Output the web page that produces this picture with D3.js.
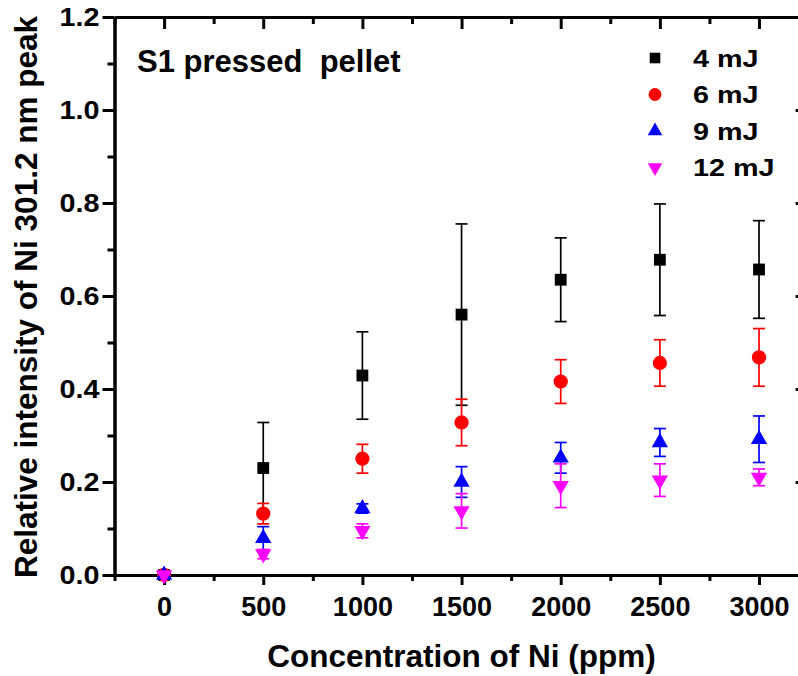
<!DOCTYPE html>
<html>
<head>
<meta charset="utf-8">
<script src="https://cdn.jsdelivr.net/npm/d3@7"></script>
<style>
  body { margin: 0; background: #fff; }
  svg { display: block; }
  text { font-family: "Liberation Sans", Arial, sans-serif; font-weight: bold; fill: #000; }
</style>
</head>
<body>
<div id="chart"></div>
<script>
// concentration of Ni (ppm)
var concentrations = [0, 500, 1000, 1500, 2000, 2500, 3000];

// relative intensity per laser energy, with error bar half-widths
var mj4 = [0, 0.23, 0.429, 0.56, 0.635, 0.678, 0.657];
var mj4Err = [0, 0.098, 0.094, 0.195, 0.09, 0.12, 0.105];
var mj6 = [0, 0.132, 0.25, 0.328, 0.416, 0.456, 0.468];
var mj6Err = [0, 0.022, 0.031, 0.05, 0.047, 0.05, 0.062];
var mj9 = [0, 0.079, 0.143, 0.2, 0.252, 0.285, 0.292];
var mj9Err = [0, 0.025, 0.01, 0.033, 0.033, 0.03, 0.05];
var mj12 = [0, 0.045, 0.095, 0.138, 0.192, 0.204, 0.21];
var mj12Err = [0, 0.01, 0.015, 0.037, 0.047, 0.035, 0.018];

var seriesNames = ["4 mJ", "6 mJ", "9 mJ", "12 mJ"];
var xTicks = [0, 500, 1000, 1500, 2000, 2500, 3000];
var yTicks = [0, 0.2, 0.4, 0.6, 0.8, 1.0, 1.2];

var width = 798, height = 676;
var margin = {top: 17, left: 114.5, right: -10.6, bottom: 101};
var w = width - margin.left - margin.right,
    h = height - margin.top - margin.bottom;

var series = [
    {name: seriesNames[0], values: mj4, err: mj4Err, color: "#000000", symbol: d3.symbolSquare, size: 140, rot: 0},
    {name: seriesNames[1], values: mj6, err: mj6Err, color: "#ff0000", symbol: d3.symbolCircle, size: 160, rot: 0},
    {name: seriesNames[2], values: mj9, err: mj9Err, color: "#0000ff", symbol: d3.symbolTriangle, size: 115, rot: 0},
    {name: seriesNames[3], values: mj12, err: mj12Err, color: "#ff00ff", symbol: d3.symbolTriangle, size: 115, rot: 180}
];

var svg = d3.select("#chart")
    .append("svg")
    .attr("width", width)
    .attr("height", height)
    .append("g")
    .attr("transform", "translate(" + margin.left + "," + margin.top + ")");

var x = d3.scaleLinear().domain([-250, 3250]).range([0, w]);
var y = d3.scaleLinear().domain([0, 1.2]).range([h, 0]);

var xMinor = d3.range(-250, 3251, 500);
var yMinor = d3.range(0.1, 1.2, 0.2);

function styleAxis(g) {
    g.select(".domain").attr("stroke", "#000").attr("stroke-width", 3);
    g.selectAll(".tick line").attr("stroke", "#000").attr("stroke-width", 3);
    g.selectAll("text").remove();
}

// frame: bottom
svg.append("g")
    .attr("transform", "translate(0," + h + ")")
    .call(d3.axisBottom(x).tickValues(xMinor).tickSize(6).tickSizeOuter(0))
    .call(styleAxis);
var xAxisG = svg.append("g")
    .attr("transform", "translate(0," + h + ")")
    .call(d3.axisBottom(x).tickValues(xTicks).tickSize(10).tickSizeOuter(0).tickPadding(12)
          .tickFormat(d3.format("d")));
xAxisG.select(".domain").attr("stroke", "#000").attr("stroke-width", 3);
xAxisG.selectAll(".tick line").attr("stroke", "#000").attr("stroke-width", 3);
xAxisG.selectAll("text")
    .style("font-size", "27px")
    .attr("dy", "0.71em");

// frame: top
svg.append("g")
    .call(d3.axisTop(x).tickValues(xMinor).tickSize(-7).tickSizeOuter(0))
    .call(styleAxis);
svg.append("g")
    .call(d3.axisTop(x).tickValues(xTicks).tickSize(-12).tickSizeOuter(0))
    .call(styleAxis);

// frame: left
svg.append("g")
    .call(d3.axisLeft(y).tickValues(yMinor).tickSize(7).tickSizeOuter(0))
    .call(styleAxis);
var yAxisG = svg.append("g")
    .call(d3.axisLeft(y).tickValues(yTicks).tickSize(12).tickSizeOuter(0).tickPadding(4)
          .tickFormat(d3.format(".1f")));
yAxisG.select(".domain").attr("stroke", "#000").attr("stroke-width", 3);
yAxisG.selectAll(".tick line").attr("stroke", "#000").attr("stroke-width", 3);
// tick labels in the picture are a bit wider than the font
yAxisG.selectAll("text")
    .style("font-size", "25px")
    .attr("x", 0)
    .attr("transform", "translate(-15,0) scale(1.15,1)");

// frame: right (mostly outside the picture)
svg.append("g")
    .attr("transform", "translate(" + w + ",0)")
    .call(d3.axisRight(y).tickValues(yTicks).tickSize(-13).tickSizeOuter(0))
    .call(styleAxis);

// error bars and markers
var capW = 6;
series.forEach(function(s) {
    var pts = concentrations.map(function(c, i) {
        return {x: c, y: s.values[i], e: s.err[i]};
    });
    var eb = svg.append("g")
        .attr("stroke", s.color)
        .attr("stroke-width", 1.7)
        .selectAll("g")
        .data(pts.filter(function(d) { return d.e > 0; }))
        .enter().append("g");
    eb.append("line")
        .attr("x1", function(d) { return x(d.x); })
        .attr("x2", function(d) { return x(d.x); })
        .attr("y1", function(d) { return y(d.y - d.e); })
        .attr("y2", function(d) { return y(d.y + d.e); });
    eb.append("line")
        .attr("x1", function(d) { return x(d.x) - capW; })
        .attr("x2", function(d) { return x(d.x) + capW; })
        .attr("y1", function(d) { return y(d.y + d.e); })
        .attr("y2", function(d) { return y(d.y + d.e); });
    eb.append("line")
        .attr("x1", function(d) { return x(d.x) - capW; })
        .attr("x2", function(d) { return x(d.x) + capW; })
        .attr("y1", function(d) { return y(d.y - d.e); })
        .attr("y2", function(d) { return y(d.y - d.e); });

    svg.append("g")
        .selectAll("path")
        .data(pts)
        .enter().append("path")
        .attr("d", d3.symbol().type(s.symbol).size(s.size))
        .attr("fill", s.color)
        .attr("transform", function(d) {
            return "translate(" + x(d.x) + "," + y(d.y) + ") rotate(" + s.rot + ")";
        });
});

// legend
var legend = svg.append("g")
    .attr("transform", "translate(" + (655 - margin.left) + "," + (58 - margin.top) + ")");
var legendRows = legend.selectAll("g")
    .data(series)
    .enter().append("g")
    .attr("transform", function(d, i) { return "translate(0," + (i * 36.5) + ")"; });
legendRows.append("path")
    .attr("d", function(d) { return d3.symbol().type(d.symbol).size(d.size * 0.8)(); })
    .attr("fill", function(d) { return d.color; })
    .attr("transform", function(d) { return "rotate(" + d.rot + ")"; });
legendRows.append("text")
    .attr("transform", "translate(38,8.5) scale(1.25,1)")
    .style("font-size", "23px")
    .text(function(d) { return d.name; });

// annotation
svg.append("text")
    .attr("x", 137 - margin.left)
    .attr("y", 72 - margin.top)
    .style("font-size", "31px")
    .style("white-space", "pre")
    .attr("xml:space", "preserve")
    .text("S1 pressed  pellet");

// axis titles
svg.append("text")
    .attr("x", 461.5 - margin.left)
    .attr("y", 667 - margin.top)
    .attr("text-anchor", "middle")
    .style("font-size", "31.5px")
    .text("Concentration of Ni (ppm)");

svg.append("text")
    .attr("transform", "rotate(-90)")
    .attr("x", -(297 - margin.top))
    .attr("y", 37 - margin.left)
    .attr("text-anchor", "middle")
    .style("font-size", "31.5px")
    .text("Relative intensity of Ni 301.2 nm peak");
</script>
</body>
</html>
